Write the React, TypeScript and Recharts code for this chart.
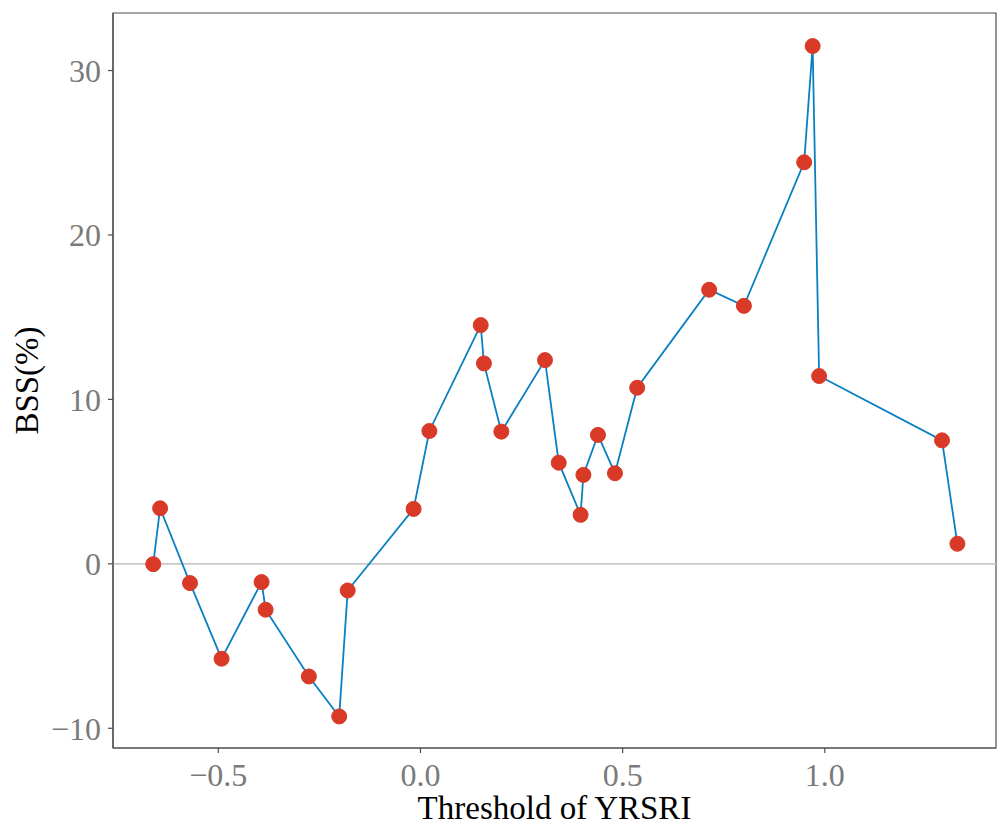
import React from 'react';
import {
  LineChart,
  Line,
  XAxis,
  YAxis,
  ReferenceLine,
  ReferenceArea,
} from 'recharts';

// Threshold of YRSRI (x) and Brier skill score in percent (y)
const thresholds = [
  -0.661, -0.644, -0.570, -0.492, -0.393, -0.383, -0.276, -0.201, -0.180,
  -0.017, 0.022, 0.149, 0.157, 0.200, 0.308, 0.342, 0.396, 0.403, 0.439,
  0.481, 0.536, 0.714, 0.800, 0.949, 0.970, 0.986, 1.290, 1.328,
];
const bssValues = [
  -0.02, 3.38, -1.17, -5.77, -1.11, -2.79, -6.85, -9.28, -1.62,
  3.34, 8.08, 14.52, 12.19, 8.04, 12.39, 6.15, 2.98, 5.41, 7.84,
  5.51, 10.71, 16.67, 15.69, 24.42, 31.49, 11.42, 7.51, 1.22,
];
const xTicks = [-0.5, 0, 0.5, 1.0];
const yTicks = [-10, 0, 10, 20, 30];

const X_DOMAIN: [number, number] = [-0.7605, 1.4235];
const Y_DOMAIN: [number, number] = [-11.2, 33.5];

const data = thresholds.map((t, i) => ({ t, bss: bssValues[i] }));

const FONT = '"Liberation Serif", "Times New Roman", serif';
const TICK_GREY = '#7a7a7a';
const FRAME = '#4d4d4d';

const fmtX = (v: number) => (v < 0 ? '\u2212' : '') + Math.abs(v).toFixed(1);
const fmtY = (v: number) => (v < 0 ? '\u2212' : '') + Math.abs(v).toString();

const XTitle = (props: any) => {
  const vb = props.viewBox;
  return (
    <text
      x={vb.x + vb.width / 2}
      y={vb.y + 71}
      textAnchor="middle"
      fontFamily={FONT}
      fontSize={33}
      fill="#000"
    >
      Threshold of YRSRI
    </text>
  );
};

const YTitle = (props: any) => {
  const vb = props.viewBox;
  const cx = 38;
  const cy = vb.y + vb.height / 2;
  return (
    <text
      x={cx}
      y={cy}
      textAnchor="middle"
      fontFamily={FONT}
      fontSize={33}
      fill="#000"
      transform={`rotate(-90, ${cx}, ${cy})`}
    >
      BSS(%)
    </text>
  );
};

export default function App() {
  return (
    <div style={{ position: 'absolute', left: 0, top: 0, background: '#fff' }}>
      <LineChart
        width={998}
        height={823}
        data={data}
        margin={{ top: 13, right: 2, bottom: 0, left: 0 }}
      >
        <XAxis
          dataKey="t"
          type="number"
          domain={X_DOMAIN}
          ticks={xTicks}
          tickFormatter={fmtX}
          allowDataOverflow
          height={75}
          stroke={FRAME}
          tickSize={5}
          tickMargin={10}
          tick={{ fill: TICK_GREY, fontSize: 32, fontFamily: FONT }}
          axisLine={{ stroke: FRAME, strokeWidth: 1.2 }}
          tickLine={{ stroke: FRAME, strokeWidth: 1.2 }}
          label={<XTitle />}
        />
        <YAxis
          type="number"
          domain={Y_DOMAIN}
          ticks={yTicks}
          tickFormatter={fmtY}
          allowDataOverflow
          width={113}
          tickSize={5}
          tickMargin={7}
          tick={{ fill: TICK_GREY, fontSize: 32, fontFamily: FONT }}
          axisLine={{ stroke: FRAME, strokeWidth: 1.2 }}
          tickLine={{ stroke: FRAME, strokeWidth: 1.2 }}
          label={<YTitle />}
        />
        {/* panel frame */}
        <ReferenceArea
          x1={X_DOMAIN[0]}
          x2={X_DOMAIN[1]}
          y1={Y_DOMAIN[0]}
          y2={Y_DOMAIN[1]}
          fill="none"
          fillOpacity={0}
          stroke={FRAME}
          strokeWidth={1.2}
          strokeOpacity={1}
        />
        <ReferenceLine y={0} stroke="#c8c8c8" strokeWidth={1.6} />
        <Line
          dataKey="bss"
          type="linear"
          stroke="#0a80c2"
          strokeWidth={1.8}
          isAnimationActive={false}
          dot={{ r: 7.5, fill: '#d93a27', stroke: '#d93a27', strokeWidth: 1 }}
          activeDot={false}
        />
      </LineChart>
    </div>
  );
}
